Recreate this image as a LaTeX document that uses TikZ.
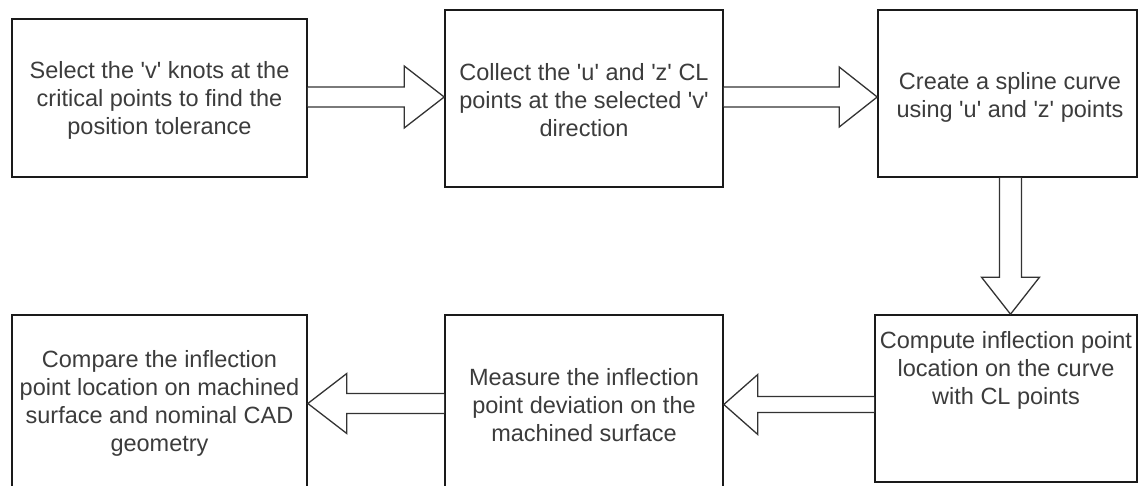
\documentclass[tikz,border=0pt]{standalone}
\usepackage{fontspec}
\setmainfont{Liberation Sans}
\usetikzlibrary{calc}
\definecolor{txt}{HTML}{3C3C3C}
\definecolor{edge}{HTML}{1A1A1A}
\definecolor{arr}{HTML}{333333}
\newcommand{\sq}{\textquotesingle}
\tikzset{
  stepbox/.style={draw=edge, line width=1.6pt, fill=white, rectangle, inner sep=0pt},
  steptext/.style={text=txt, align=center, font=\fontsize{23.5}{28}\selectfont, inner sep=0pt},
  blockarrow/.style={draw=arr, line width=1.3pt, fill=white, line join=miter}
}
\begin{document}
\begin{tikzpicture}[x=1pt, y=-1pt]
\useasboundingbox (0,0) rectangle (1139,486);

% process steps
\node[stepbox, minimum width=295pt, minimum height=158pt] (b1) at (159.5,98) {};
\node[steptext] (t1) at (159.5,100) {Select the \sq v\sq{} knots at the\\critical points to find the\\position tolerance};

\node[stepbox, minimum width=278pt, minimum height=177pt] (b2) at (584,98.5) {};
\node[steptext] (t2) at (584,100) {Collect the \sq u\sq{} and \sq z\sq{} CL\\points at the selected \sq v\sq\\direction};

\node[stepbox, minimum width=259pt, minimum height=167pt] (b3) at (1007.5,93.5) {};
\node[steptext] (t3) at (1010,97) {Create a spline curve\\using \sq u\sq{} and \sq z\sq{} points};

\node[stepbox, minimum width=262pt, minimum height=167pt] (b4) at (1006,398.5) {};
\node[steptext] (t4) at (1006,370) {Compute inflection point\\location on the curve\\with CL points};

\node[stepbox, minimum width=278pt, minimum height=177pt] (b5) at (584,403.5) {};
\node[steptext] (t5) at (584,405) {Measure the inflection\\point deviation on the\\machined surface};

\node[stepbox, minimum width=295pt, minimum height=177pt] (b6) at (159.5,403.5) {};
\node[steptext] (t6) at (159.5,403) {Compare the inflection\\point location on machined\\surface and nominal CAD\\geometry};

% block arrows between the steps
\coordinate (a1s) at ($(b1.east)+(0,-1)$);
\coordinate (a1e) at (b2.west|-a1s);
\draw[blockarrow] ($(a1s)+(0,-10)$) -- ($(a1e)+(-40,-10)$) -- ($(a1e)+(-40,-31)$) -- (a1e)
  -- ($(a1e)+(-40,31)$) -- ($(a1e)+(-40,10)$) -- ($(a1s)+(0,10)$);

\coordinate (a2s) at ($(b2.east)+(0,-1.5)$);
\coordinate (a2e) at (b3.west|-a2s);
\draw[blockarrow] ($(a2s)+(0,-10)$) -- ($(a2e)+(-38,-10)$) -- ($(a2e)+(-38,-30)$) -- (a2e)
  -- ($(a2e)+(-38,30)$) -- ($(a2e)+(-38,10)$) -- ($(a2s)+(0,10)$);

\coordinate (a3s) at ($(b3.south)+(3,0)$);
\coordinate (a3e) at (a3s|-b4.north);
\draw[blockarrow] ($(a3s)+(-11,0)$) -- ($(a3e)+(-11,-37)$) -- ($(a3e)+(-29,-37)$) -- (a3e)
  -- ($(a3e)+(29,-37)$) -- ($(a3e)+(11,-37)$) -- ($(a3s)+(11,0)$);

\coordinate (a4s) at ($(b4.west)+(0,6)$);
\coordinate (a4e) at (b5.east|-a4s);
\draw[blockarrow] ($(a4s)+(0,-8)$) -- ($(a4e)+(34,-8)$) -- ($(a4e)+(34,-30)$) -- (a4e)
  -- ($(a4e)+(34,30)$) -- ($(a4e)+(34,8)$) -- ($(a4s)+(0,8)$);

\coordinate (a5s) at ($(b5.west)+(0,0)$);
\coordinate (a5e) at (b6.east|-a5s);
\draw[blockarrow] ($(a5s)+(0,-10)$) -- ($(a5e)+(39,-10)$) -- ($(a5e)+(39,-30)$) -- (a5e)
  -- ($(a5e)+(39,30)$) -- ($(a5e)+(39,10)$) -- ($(a5s)+(0,10)$);
\end{tikzpicture}
\end{document}
